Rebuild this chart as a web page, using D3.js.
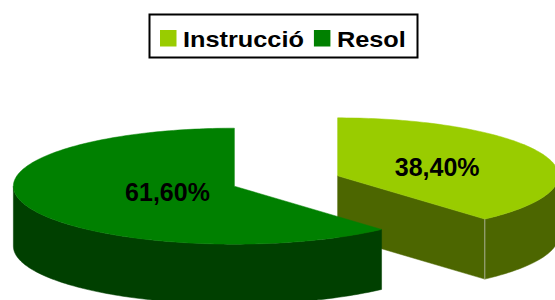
<!DOCTYPE html>
<html>
<head>
<meta charset="utf-8">
<script src="https://cdn.jsdelivr.net/npm/d3@7"></script>
<style>
  html, body { margin: 0; padding: 0; background: #fff; }
  svg { display: block; }
</style>
</head>
<body>
<svg id="chart" width="555" height="300"></svg>
<script>
// ---- data ----
const categories = ["Instrucció", "Resol"];
const values = [38.4, 61.6];
const labels = ["38,40%", "61,60%"];

// ---- styling / layout ----
const topColors = ["#99CC00", "#008000"];
const sideColors = ["#4C6600", "#004000"];
const W = 555, H = 300;
const cx = 286, cy = 181;     // base centre of the top ellipse
const rx = 221, ry = 58;      // ellipse radii
const depth = 60;             // thickness
const explode = 0.25;         // fraction of radius
const labelFrac = [[0.482, 0.44], [0.324, 0.267]];
const font = "'Liberation Sans', Arial, sans-serif";

const svg = d3.select("#chart");

const pie = d3.pie().sort(null).value(d => d);
const arcs = pie(values);

function rim(c, a, z) {
  return [c[0] + rx * Math.sin(a), c[1] - ry * Math.cos(a) + z];
}
function arcPts(c, a0, a1, z) {
  const n = Math.max(2, Math.ceil(Math.abs(a1 - a0) / 0.02));
  const s = d3.scaleLinear().domain([0, n]).range([a0, a1]);
  return d3.range(n + 1).map(i => rim(c, s(i), z));
}
const line = d3.line();

arcs.forEach((d, i) => {
  const mid = (d.startAngle + d.endAngle) / 2;
  d.center = [cx + explode * rx * Math.sin(mid), cy - explode * ry * Math.cos(mid)];
  d.mid = mid;
});

const order = arcs.map((d, i) => i).sort((a, b) => arcs[a].center[1] - arcs[b].center[1]);

const g = svg.append("g");

order.forEach(i => {
  const d = arcs[i];
  const c = d.center;
  const a0 = d.startAngle, a1 = d.endAngle;
  const sg = g.append("g").attr("class", "slice");

  [[a0, a0 - Math.PI / 2], [a1, a1 + Math.PI / 2]].forEach(([a, n]) => {
    if (-Math.cos(n) > 0.001) {
      const pts = [[c[0], c[1]], rim(c, a, 0), rim(c, a, depth), [c[0], c[1] + depth]];
      sg.append("path").attr("d", line(pts) + "Z")
        .attr("fill", sideColors[i]).attr("stroke", sideColors[i]).attr("stroke-width", 0.5);
    }
  });

  const s0 = Math.max(a0, Math.PI / 2), s1 = Math.min(a1, 3 * Math.PI / 2);
  if (s1 > s0) {
    const pts = arcPts(c, s0, s1, 0).concat(arcPts(c, s1, s0, depth));
    sg.append("path").attr("d", line(pts) + "Z")
      .attr("fill", sideColors[i]).attr("stroke", sideColors[i]).attr("stroke-width", 0.5);
    if (a1 < 3 * Math.PI / 2 && a1 > Math.PI / 2 && -Math.cos(a1 + Math.PI / 2) > 0.001) {
      const p = rim(c, a1, 0), q = rim(c, a1, depth);
      sg.append("line").attr("x1", p[0]).attr("y1", p[1]).attr("x2", q[0]).attr("y2", q[1])
        .attr("stroke", "#a9ae92").attr("stroke-width", 1);
    }
  }

  const top = [[c[0], c[1]]].concat(arcPts(c, a0, a1, 0));
  sg.append("path").attr("d", line(top) + "Z")
    .attr("fill", topColors[i]).attr("stroke", topColors[i]).attr("stroke-width", 0.5);
});

// labels
arcs.forEach((d, i) => {
  const c = d.center;
  const x = c[0] + labelFrac[i][0] * rx * Math.sin(d.mid);
  const y = c[1] - labelFrac[i][1] * ry * Math.cos(d.mid);
  svg.append("text")
    .attr("x", x).attr("y", y + 9)
    .attr("text-anchor", "middle")
    .attr("font-family", font).attr("font-weight", "bold").attr("font-size", 25)
    .attr("fill", "#000")
    .text(labels[i]);
});

// legend
const lg = svg.append("g");
lg.append("rect")
  .attr("x", 149.5).attr("y", 14.5).attr("width", 268).attr("height", 43)
  .attr("fill", "#fff").attr("stroke", "#000").attr("stroke-width", 2);
let lx = 160;
categories.forEach((name, i) => {
  lg.append("rect").attr("x", lx).attr("y", 30).attr("width", 16.5).attr("height", 16.5)
    .attr("fill", topColors[i]);
  const t = lg.append("text")
    .attr("x", lx + 23).attr("y", 47)
    .attr("font-family", font).attr("font-weight", "bold").attr("font-size", 22)
    .attr("fill", "#000")
    .text(name);
  const w = t.node().getComputedTextLength() * 1.15;
  t.attr("textLength", w).attr("lengthAdjust", "spacingAndGlyphs");
  lx = lx + 23 + w + 10;
});
</script>
</body>
</html>
